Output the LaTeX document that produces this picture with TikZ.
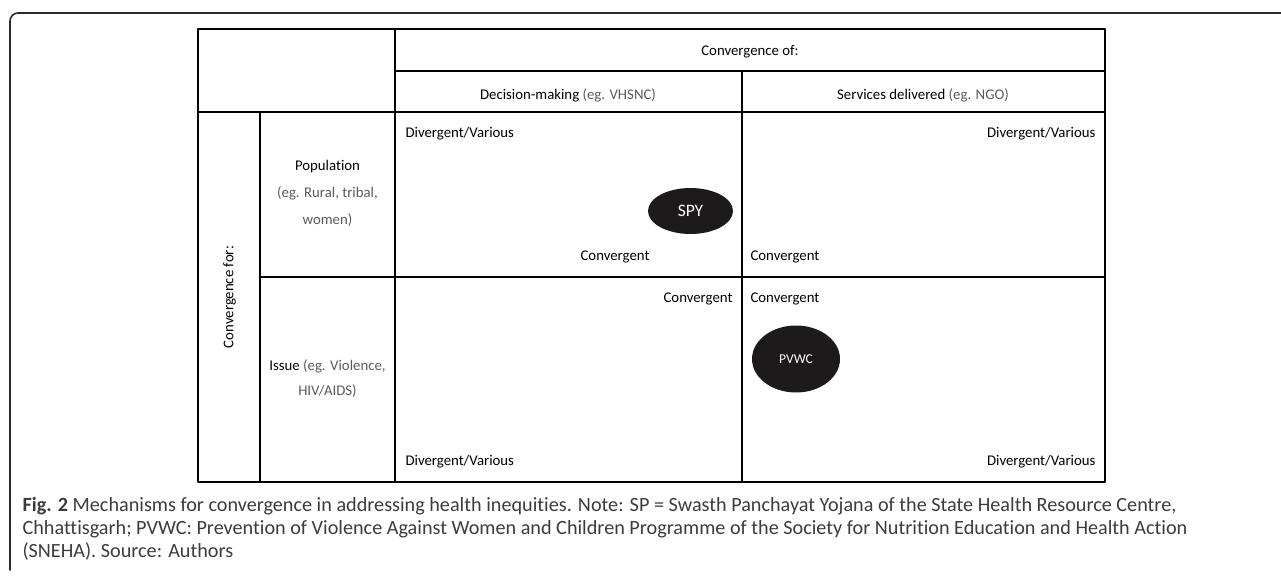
\documentclass[tikz,border=0pt]{standalone}
\usepackage{fontspec}
\setmainfont[Ligatures=NoCommon]{Carlito}
\usepackage{xcolor}
\usetikzlibrary{shapes.geometric}
\definecolor{framegray}{HTML}{2B2B2B}
\definecolor{eggray}{HTML}{5A5A5A}
\definecolor{capgray}{HTML}{3C3C3C}
\definecolor{blobfill}{HTML}{1C1A1A}

\begin{document}
\begin{tikzpicture}[line cap=round,line join=round,x=1pt,y=-1pt,
    cell/.style={font=\fontsize{14.8}{17}\selectfont},
    eg/.style={text=eggray},
    blob/.style={ellipse,fill=blobfill,text=white,inner sep=0pt},
    captxt/.style={anchor=mid west,text=capgray,font=\fontsize{20.2}{23}\selectfont}]
		\useasboundingbox (0,0) rectangle (1281,577);
		% outer frame, open at the right and at the bottom
		\draw [line width=1.6pt,color=framegray,rounded corners=8pt] (10,570)-- (10,13)-- (1281,13);
		% table rules
		\draw [line width=1.1pt] (198,29) rectangle (1105,482);
		\draw [line width=1.1pt] (395,29)-- (395,482);
		\draw [line width=1.1pt] (395,71)-- (1105,71);
		\draw [line width=1.1pt] (198,112)-- (1105,112);
		\draw [line width=1.1pt] (742,71)-- (742,482);
		\draw [line width=1.1pt] (260,112)-- (260,482);
		\draw [line width=1.1pt] (260,277)-- (1105,277);
		% column headers
		\node[cell,anchor=mid] (convof) at (750,53) {Convergence of:};
		\node[cell,anchor=mid] (decis) at (568,97) {Decision-making \textcolor{eggray}{(eg. VHSNC)}};
		\node[cell,anchor=mid] (serv) at (923,97) {Services delivered \textcolor{eggray}{(eg. NGO)}};
		% row headers
		\node[cell,anchor=mid,rotate=90] (convfor) at (231,297) {Convergence for:};
		\node[cell,anchor=mid] (popu) at (327.5,168) {Population};
		\node[cell,eg,anchor=mid] (popua) at (327.5,195) {(eg. Rural, tribal,};
		\node[cell,eg,anchor=mid] (popub) at (327.5,222) {women)};
		\node[cell,anchor=mid] (issuea) at (327.5,368) {Issue \textcolor{eggray}{(eg. Violence,}};
		\node[cell,eg,anchor=mid] (issueb) at (327.5,393) {HIV/AIDS)};
		% axis ends in each cell
		\node[cell,anchor=mid west] (dmtop) at (402,135) {Divergent/Various};
		\node[cell,anchor=mid] (dmbot) at (615,258) {Convergent};
		\node[cell,anchor=mid east] (sdtop) at (1099,135) {Divergent/Various};
		\node[cell,anchor=mid west] (sdbot) at (747,258) {Convergent};
		\node[cell,anchor=mid east] (ditop) at (736,300) {Convergent};
		\node[cell,anchor=mid west] (dibot) at (402,463) {Divergent/Various};
		\node[cell,anchor=mid west] (sitop) at (747,300) {Convergent};
		\node[cell,anchor=mid east] (sibot) at (1099,463) {Divergent/Various};
		% programmes
		\node[blob,minimum width=85pt,minimum height=46pt,font=\fontsize{17.5}{19}\selectfont] (spy) at (690.5,211) {SPY};
		\node[blob,minimum width=88pt,minimum height=67pt,font=\fontsize{13.5}{15}\selectfont] (pvwc) at (796,359) {PVWC};
		% caption
		\node[captxt] (capa) at (19,509) {\textbf{Fig. 2} Mechanisms for convergence in addressing health inequities. Note: SP = Swasth Panchayat Yojana of the State Health Resource Centre,};
		\node[captxt] (capb) at (19,532) {Chhattisgarh; PVWC: Prevention of Violence Against Women and Children Programme of the Society for Nutrition Education and Health Action};
		\node[captxt] (capc) at (19,555) {(SNEHA). Source: Authors};
		\end{tikzpicture}
\end{document}
